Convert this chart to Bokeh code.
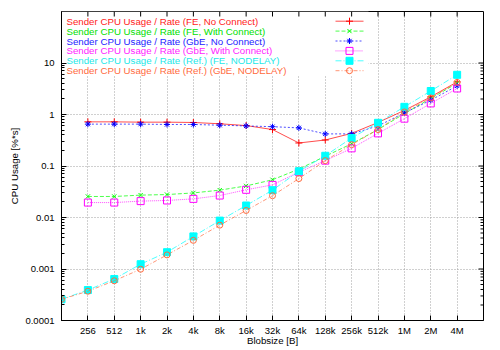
import math
from bokeh.plotting import figure
from bokeh.models import FixedTicker, Label, BoxAnnotation
from bokeh.embed import file_html
from bokeh.resources import INLINE

# ---------------- data ----------------
blobsizes = [128, 256, 512, 1024, 2048, 4096, 8192, 16384, 32768, 65536,
             131072, 262144, 524288, 1048576, 2097152, 4194304]
tick_values = blobsizes[1:]
tick_labels = ["256", "512", "1k", "2k", "4k", "8k", "16k", "32k", "64k",
               "128k", "256k", "512k", "1M", "2M", "4M"]
y_tick_values = [0.0001, 0.001, 0.01, 0.1, 1, 10]
y_tick_labels = ["0.0001", "0.001", "0.01", "0.1", "1", "10"]

# series that start at 256 B
fe_no_connect = [0.72, 0.72, 0.71, 0.71, 0.70, 0.66, 0.61, 0.51, 0.28, 0.32,
                 0.43, 0.70, 1.2, 2.2, 4.3]
fe_with_connect = [0.0256, 0.0256, 0.0272, 0.0279, 0.030, 0.034, 0.041, 0.054,
                   0.087, 0.155, 0.27, 0.51, 1.04, 2.05, 4.05]
gbe_no_connect = [0.65, 0.65, 0.65, 0.64, 0.64, 0.62, 0.60, 0.58, 0.55, 0.42,
                  0.42, 0.60, 1.07, 1.9, 3.6]
gbe_with_connect = [0.0195, 0.0195, 0.0208, 0.0214, 0.023, 0.0267, 0.0345, 0.043,
                    0.076, 0.127, 0.22, 0.43, 0.83, 1.64, 3.2]
# series that start at 128 B
ref_fe_nodelay = [0.000258, 0.00039, 0.00064, 0.00124, 0.00212, 0.0043, 0.0087,
                  0.0171, 0.034, 0.079, 0.158, 0.35, 0.69, 1.41, 2.86, 5.9]
ref_gbe_nodelay = [0.000258, 0.00037, 0.00059, 0.00099, 0.00188, 0.0036, 0.0071,
                   0.0137, 0.0265, 0.057, 0.127, 0.26, 0.51, 1.12, 2.1, 4.2]

series_names = [
    "Sender CPU Usage / Rate (FE, No Connect)",
    "Sender CPU Usage / Rate (FE, With Connect)",
    "Sender CPU Usage / Rate (GbE, No Connect)",
    "Sender CPU Usage / Rate (GbE, With Connect)",
    "Sender CPU Usage / Rate (Ref.) (FE, NODELAY)",
    "Sender CPU Usage / Rate (Ref.) (GbE, NODELAY)",
]

FONT = "Liberation Sans"
X_LO, X_HI = 128, 8388608
Y_LO, Y_HI = 1e-4, 100

# styles: (line colour, text colour, dash, marker, size, fill)
styles = [
    ("#ff0000", "#ff1a1a", "solid", "cross", 7, False),
    ("#00ff00", "#00e000", "4 2", "x", 6, False),
    ("#0000ff", "#2222ff", "2 2", "asterisk", 6, False),
    ("#ff00ff", "#ff22ff", "1 1", "square", 7, False),
    ("#00ffff", "#22e8e8", "6 2 1 2", "square", 7, True),
    ("#ff6a3d", "#ff6a3d", "4 2 1 2", "circle", 6, False),
]

xs_list = [tick_values, tick_values, tick_values, tick_values, blobsizes, blobsizes]
ys_list = [fe_no_connect, fe_with_connect, gbe_no_connect, gbe_with_connect,
           ref_fe_nodelay, ref_gbe_nodelay]

# frame position in the page (pixels)
FR_L, FR_R, FR_T, FR_B = 61, 483, 11, 320
W, H = 500, 350

p = figure(width=W, height=H, x_axis_type="log", y_axis_type="log",
           x_range=(X_LO, X_HI), y_range=(Y_LO, Y_HI),
           output_backend="svg", toolbar_location=None,
           min_border_left=FR_L, min_border_right=W - FR_R, min_border_top=FR_T,
           min_border_bottom=H - FR_B)
p.outline_line_color = "black"
p.outline_line_width = 1
p.background_fill_color = "white"
p.border_fill_color = "white"

minor_y = [m * 10 ** k for k in range(-4, 1) for m in range(2, 10)]
xticker = FixedTicker(ticks=tick_values, minor_ticks=[])
yticker = FixedTicker(ticks=y_tick_values, minor_ticks=minor_y)


def style_axis(ax):
    ax.axis_line_color = "black"
    ax.major_tick_in = 5
    ax.major_tick_out = 0
    ax.minor_tick_in = 3
    ax.minor_tick_out = 0
    ax.major_tick_line_color = "black"
    ax.minor_tick_line_color = "black"
    ax.major_label_text_font = FONT
    ax.major_label_text_color = "black"
    ax.major_label_text_font_size = "9.5px"
    ax.axis_label_text_font = FONT
    ax.axis_label_text_font_style = "normal"
    ax.axis_label_text_font_size = "9.7px"
    ax.axis_label_text_color = "black"


xa = p.xaxis[0]
xa.ticker = xticker
xa.major_label_overrides = {v: l for v, l in zip(tick_values, tick_labels)}
style_axis(xa)
xa.major_label_standoff = 4
xa.axis_label = "Blobsize [B]"
xa.axis_label_standoff = -4

ya = p.yaxis[0]
ya.ticker = yticker
ya.major_label_overrides = {v: l for v, l in zip(y_tick_values, y_tick_labels)}
style_axis(ya)
ya.major_label_standoff = 7
ya.axis_label = "CPU Usage [%*s]"
ya.axis_label_standoff = 2

p.xgrid.ticker = xticker
p.ygrid.ticker = FixedTicker(ticks=y_tick_values, minor_ticks=[])
for g in (p.xgrid[0], p.ygrid[0]):
    g.grid_line_color = "#a0a0a0"
    g.grid_line_dash = "1 2"
    g.grid_line_width = 1


# ---- helpers: convert a pixel position in the frame to data values ----
def xd(px):
    f = (px - FR_L) / (FR_R - FR_L)
    return 10 ** (math.log10(X_LO) + f * (math.log10(X_HI) - math.log10(X_LO)))


def yd(py):
    f = (FR_B - py) / (FR_B - FR_T)
    return 10 ** (math.log10(Y_LO) + f * (math.log10(Y_HI) - math.log10(Y_LO)))


# mirrored ticks on the top and right borders (gnuplot style)
p.segment(x0=tick_values, x1=tick_values, y0=[yd(FR_T)] * len(tick_values),
          y1=[yd(FR_T + 5)] * len(tick_values), line_color="black", line_width=1)
p.segment(x0=[xd(FR_R)] * len(y_tick_values), x1=[xd(FR_R - 5)] * len(y_tick_values),
          y0=y_tick_values, y1=y_tick_values, line_color="black", line_width=1)
p.segment(x0=[xd(FR_R)] * len(minor_y), x1=[xd(FR_R - 3)] * len(minor_y),
          y0=minor_y, y1=minor_y, line_color="black", line_width=1)

box = BoxAnnotation(left=xd(61), right=xd(368), top=yd(11), bottom=yd(75),
                    fill_color="white", fill_alpha=1.0, line_alpha=0,
                    level="underlay")
p.add_layout(box)

# ---- data series ----
for (lc, tc, dash, marker, size, filled), xs, ys in zip(styles, xs_list, ys_list):
    p.line(xs, ys, line_color=lc, line_width=1, line_dash=dash, line_alpha=0.7)
    p.scatter(xs, ys, marker=marker, size=size, line_color=lc, line_width=1,
              fill_color=lc if filled else None, fill_alpha=1.0 if filled else 0)

# ---- legend ----
for i, ((lc, tc, dash, marker, size, filled), name) in enumerate(zip(styles, series_names)):
    row_y = yd(20.7 + i * 9.9)
    p.add_layout(Label(x=xd(66), y=row_y, text=name, text_font=FONT,
                       text_font_size="9.7px", text_color=tc,
                       text_baseline="middle", text_align="left"))
    p.line([xd(335), xd(363)], [row_y, row_y], line_color=lc, line_width=1,
           line_dash=dash, line_alpha=0.7)
    p.scatter([xd(349)], [row_y], marker=marker, size=size, line_color=lc,
              line_width=1, fill_color=lc if filled else None,
              fill_alpha=1.0 if filled else 0)

open("out.html", "w").write(file_html(p, INLINE))
